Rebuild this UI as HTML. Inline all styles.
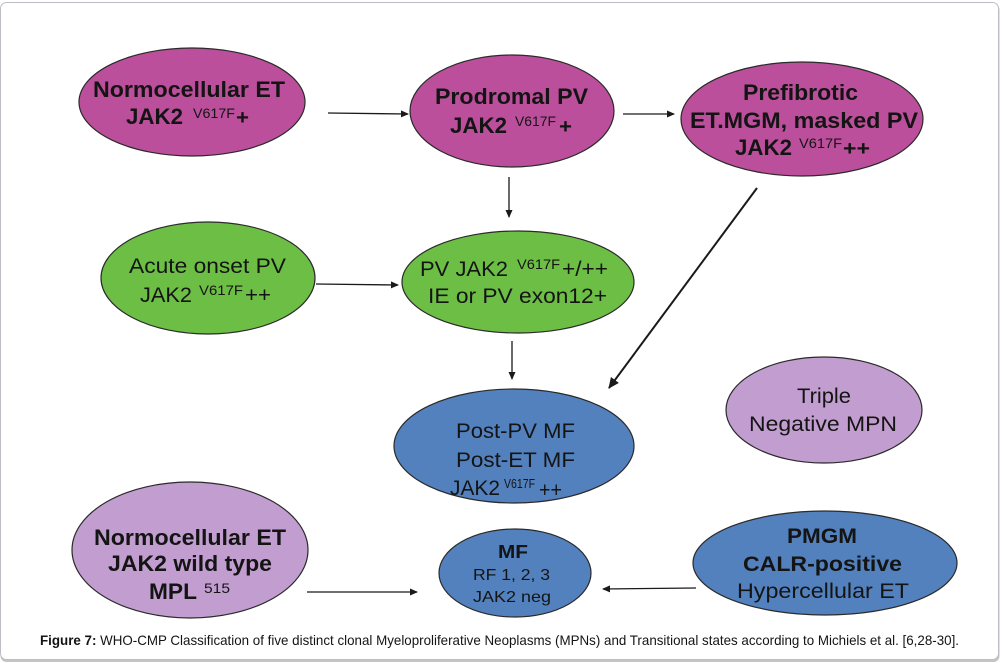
<!DOCTYPE html>
<html><head><meta charset="utf-8"><style>
html,body{margin:0;padding:0;background:#fff;}
svg{display:block;}
text{font-family:"Liberation Sans",Arial,sans-serif;fill:#141414;}
.b{font-weight:bold;}
</style></head><body>
<svg width="1003" height="663" viewBox="0 0 1003 663" xmlns="http://www.w3.org/2000/svg">
<defs>
<marker id="ah" markerWidth="8" markerHeight="8" refX="7" refY="4" orient="auto" markerUnits="userSpaceOnUse">
<path d="M0,0.5 L8,4 L0,7.5 Z" fill="#1a1a1a"/>
</marker>
<marker id="ah2" markerWidth="12" markerHeight="12" refX="10" refY="6" orient="auto" markerUnits="userSpaceOnUse">
<path d="M0,1 L11,6 L0,11 Z" fill="#1a1a1a"/>
</marker>
</defs>
<rect x="0" y="0" width="1003" height="663" fill="#fff"/>
<rect x="0.5" y="4" width="999" height="658" rx="6" fill="#c4c4c4"/>
<rect x="0.5" y="2.5" width="998" height="657" rx="6" fill="#fff" stroke="#bdbdc4" stroke-width="1"/>

<!-- ellipses -->
<g stroke="#2a2a2a" stroke-width="1.2">
<ellipse cx="192" cy="102" rx="113" ry="54" fill="#bb4f9b"/>
<ellipse cx="512" cy="111" rx="102" ry="56" fill="#bb4f9b"/>
<ellipse cx="802" cy="119" rx="121" ry="57" fill="#bb4f9b"/>
<ellipse cx="208" cy="278" rx="107" ry="56" fill="#6cbe45"/>
<ellipse cx="518" cy="282" rx="116" ry="51" fill="#6cbe45"/>
<ellipse cx="514" cy="446" rx="120" ry="57" fill="#5281bd"/>
<ellipse cx="824" cy="410" rx="98" ry="53" fill="#c29ed0"/>
<ellipse cx="190" cy="550" rx="118" ry="68" fill="#c29ed0"/>
<ellipse cx="515" cy="573" rx="76" ry="44" fill="#5281bd"/>
<ellipse cx="825" cy="563" rx="132" ry="52" fill="#5281bd"/>
</g>

<!-- arrows -->
<g stroke="#1a1a1a" stroke-width="1.3" fill="none">
<line x1="328" y1="113" x2="408" y2="114" marker-end="url(#ah)"/>
<line x1="623" y1="114" x2="674" y2="114" marker-end="url(#ah)"/>
<line x1="509" y1="177" x2="509" y2="217" marker-end="url(#ah)"/>
<line x1="316" y1="284" x2="398" y2="285" marker-end="url(#ah)"/>
<line x1="512" y1="341" x2="512" y2="379" marker-end="url(#ah)"/>
<line x1="307" y1="592" x2="417" y2="592" marker-end="url(#ah)"/>
<line x1="696" y1="588" x2="603" y2="589" marker-end="url(#ah)"/>
<line x1="757" y1="188" x2="609" y2="388" stroke-width="2" marker-end="url(#ah2)"/>
</g>

<!-- Ellipse 1 -->
<text class="b" x="93" y="97" font-size="22" textLength="192" lengthAdjust="spacingAndGlyphs">Normocellular ET</text>
<text class="b" x="126" y="124" font-size="22" textLength="57" lengthAdjust="spacingAndGlyphs">JAK2</text>
<text x="193" y="118" font-size="14" textLength="42" lengthAdjust="spacingAndGlyphs">V617F</text>
<text class="b" x="236" y="124" font-size="20" textLength="13" lengthAdjust="spacingAndGlyphs">+</text>

<!-- Ellipse 2 -->
<text class="b" x="435" y="104" font-size="22" textLength="153" lengthAdjust="spacingAndGlyphs">Prodromal PV</text>
<text class="b" x="450" y="133" font-size="22" textLength="57" lengthAdjust="spacingAndGlyphs">JAK2</text>
<text x="515" y="126" font-size="14" textLength="41" lengthAdjust="spacingAndGlyphs">V617F</text>
<text class="b" x="559" y="133" font-size="20" textLength="13" lengthAdjust="spacingAndGlyphs">+</text>

<!-- Ellipse 3 -->
<text class="b" x="743" y="100" font-size="22" textLength="115" lengthAdjust="spacingAndGlyphs">Prefibrotic</text>
<text class="b" x="690" y="128" font-size="22" textLength="228" lengthAdjust="spacingAndGlyphs">ET.MGM, masked PV</text>
<text class="b" x="735" y="155" font-size="22" textLength="57" lengthAdjust="spacingAndGlyphs">JAK2</text>
<text x="799" y="148" font-size="14" textLength="43" lengthAdjust="spacingAndGlyphs">V617F</text>
<text class="b" x="843" y="155" font-size="20" textLength="27" lengthAdjust="spacingAndGlyphs">++</text>

<!-- Ellipse 4 -->
<text x="129" y="273" font-size="21" textLength="157" lengthAdjust="spacingAndGlyphs">Acute onset PV</text>
<text x="140" y="302" font-size="21" textLength="52" lengthAdjust="spacingAndGlyphs">JAK2</text>
<text x="199" y="295" font-size="14" textLength="44" lengthAdjust="spacingAndGlyphs">V617F</text>
<text x="245" y="302" font-size="21" textLength="26" lengthAdjust="spacingAndGlyphs">++</text>

<!-- Ellipse 5 -->
<text x="420" y="276" font-size="21" textLength="88" lengthAdjust="spacingAndGlyphs">PV JAK2</text>
<text x="517" y="269" font-size="14" textLength="43" lengthAdjust="spacingAndGlyphs">V617F</text>
<text x="562" y="276" font-size="21" textLength="46" lengthAdjust="spacingAndGlyphs">+/++</text>
<text x="428" y="303" font-size="21" textLength="179" lengthAdjust="spacingAndGlyphs">IE or PV exon12+</text>

<!-- Ellipse 6 -->
<text x="456" y="438" font-size="21" textLength="119" lengthAdjust="spacingAndGlyphs">Post-PV MF</text>
<text x="456" y="467" font-size="21" textLength="119" lengthAdjust="spacingAndGlyphs">Post-ET MF</text>
<text x="450" y="495" font-size="21" textLength="50" lengthAdjust="spacingAndGlyphs">JAK2</text>
<text x="504" y="488" font-size="13" textLength="31" lengthAdjust="spacingAndGlyphs">V617F</text>
<text x="539" y="497" font-size="21" textLength="23" lengthAdjust="spacingAndGlyphs">++</text>

<!-- Ellipse 7 -->
<text x="797" y="403" font-size="21" textLength="54" lengthAdjust="spacingAndGlyphs">Triple</text>
<text x="749" y="431" font-size="21" textLength="148" lengthAdjust="spacingAndGlyphs">Negative MPN</text>

<!-- Ellipse 8 -->
<text class="b" x="94" y="545" font-size="22" textLength="192" lengthAdjust="spacingAndGlyphs">Normocellular ET</text>
<text class="b" x="108" y="571" font-size="22" textLength="164" lengthAdjust="spacingAndGlyphs">JAK2 wild type</text>
<text class="b" x="149" y="599" font-size="22" textLength="48" lengthAdjust="spacingAndGlyphs">MPL</text>
<text x="204" y="593" font-size="14" textLength="26" lengthAdjust="spacingAndGlyphs">515</text>

<!-- Ellipse 9 -->
<text class="b" x="498" y="558" font-size="18" textLength="30" lengthAdjust="spacingAndGlyphs">MF</text>
<text x="473" y="580" font-size="16" textLength="77" lengthAdjust="spacingAndGlyphs">RF 1, 2, 3</text>
<text x="473" y="602" font-size="16" textLength="78" lengthAdjust="spacingAndGlyphs">JAK2 neg</text>

<!-- Ellipse 10 -->
<text class="b" x="787" y="543" font-size="21" textLength="70" lengthAdjust="spacingAndGlyphs">PMGM</text>
<text class="b" x="743" y="571" font-size="21" textLength="159" lengthAdjust="spacingAndGlyphs">CALR-positive</text>
<text x="737" y="598" font-size="21" textLength="172" lengthAdjust="spacingAndGlyphs">Hypercellular ET</text>

<!-- caption -->
<text x="40" y="645" font-size="14" textLength="919" lengthAdjust="spacingAndGlyphs"><tspan font-weight="bold">Figure 7:</tspan> WHO-CMP Classification of five distinct clonal Myeloproliferative Neoplasms (MPNs) and Transitional states according to Michiels et al. [6,28-30].</text>
</svg>
</body></html>
